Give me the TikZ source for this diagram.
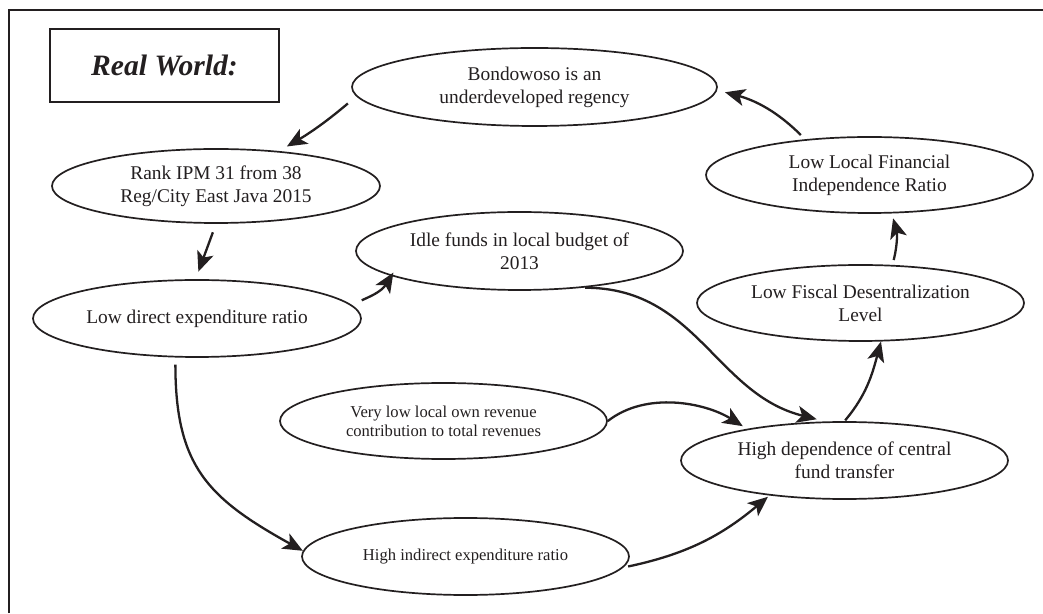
\documentclass[tikz,border=0pt]{standalone}
\usepackage{fontspec}
\setmainfont{Liberation Serif}
\usetikzlibrary{shapes.geometric,arrows.meta}
\definecolor{ink}{HTML}{231F20}
\tikzset{
  oval/.style={draw=ink, line width=1.7pt, ellipse, minimum width=327pt, minimum height=77pt, inner sep=0pt, align=center, text=ink, font=\fontsize{19.4}{23}\selectfont},
  smalltext/.style={font=\fontsize{16.6}{19}\selectfont},
  conn/.style={draw=ink, line width=2.3pt, -{Stealth[length=20pt,width=17pt,inset=5pt]}},
  titlebox/.style={draw=ink, line width=1.8pt, minimum width=229pt, minimum height=73pt, text=ink, font=\fontsize{29.6}{34}\selectfont\bfseries\itshape}
}
\begin{document}
\begin{tikzpicture}[x=1pt,y=1pt]
\useasboundingbox (0,0) rectangle (1043,613);
\fill[white] (0,0) rectangle (1043,613);
\draw[ink, line width=2.2pt] (9,0) -- (9,603) -- (1043,603);
\node[titlebox] (title) at (164.5,547.5) {Real World:};
\node[oval, minimum width=365pt, minimum height=78pt] (bond) at (534.5,526) {Bondowoso is an\\underdeveloped regency};
\node[oval, minimum width=328pt, minimum height=74pt] (rank) at (216,427) {Rank IPM 31 from 38\\Reg/City East Java 2015};
\node[oval, minimum height=78pt] (idle) at (519.5,362) {Idle funds in local budget of\\2013};
\node[oval, minimum height=76pt] (lowlocal) at (869.5,438) {Low Local Financial\\Independence Ratio};
\node[oval, minimum height=76pt] (fiscal) at (860.5,310) {Low Fiscal Desentralization\\Level};
\node[oval, minimum width=328pt] (direct) at (197,294.5) {Low direct expenditure ratio};
\node[oval, smalltext, minimum height=76pt] (verylow) at (443.5,192) {Very low local own revenue\\contribution to total revenues};
\node[oval] (highdep) at (844.5,152.5) {High dependence of central\\fund transfer};
\node[oval, smalltext] (indirect) at (465.5,56.5) {High indirect expenditure ratio};

\draw[conn, shorten <=11pt, shorten >=9pt] (bond.183) to[bend left=5] (rank.29);
\draw[conn, shorten <=9pt, shorten >=8pt] (rank.270) -- (direct.92);
\draw[conn, shorten <=11pt, shorten >=-4pt] (direct.5) to[out=25,in=238] (idle.191);
\draw[conn, shorten <=2pt, shorten >=9pt] (idle.-30) to[out=0,in=166,looseness=1.05] (highdep.116);
\draw[conn, shorten <=7pt] (direct.241) to[out=270,in=151,looseness=1.2] (indirect.178);
\draw[conn, shorten >=5pt] (verylow.east) to[out=38,in=148,looseness=0.9] (highdep.162);
\draw[conn, shorten <=5pt, shorten >=2pt] (indirect.-4.5) to[out=12,in=220] (highdep.205.5);
\draw[conn, shorten <=1pt] (highdep.90) to[out=50,in=255] (fiscal.-62);
\draw[conn, shorten <=5pt, shorten >=5pt] (fiscal.50) to[bend right=15] (lowlocal.-60);
\draw[conn, shorten <=6pt, shorten >=8pt] (lowlocal.151) to[out=135,in=-15] (bond.-1.2);
\end{tikzpicture}
\end{document}
